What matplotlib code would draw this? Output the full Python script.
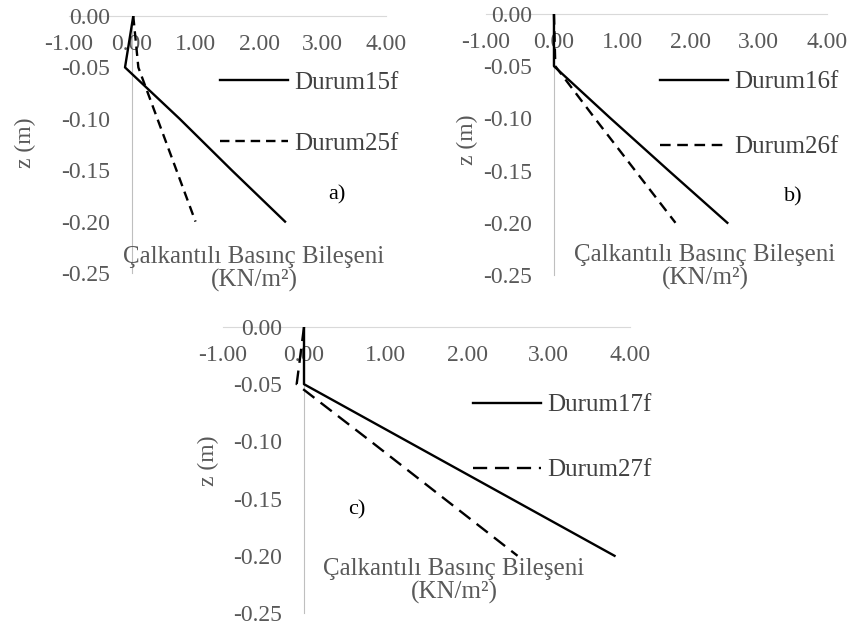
import matplotlib
matplotlib.use("Agg")
from matplotlib import pyplot as plt

#   DEPTH VALUES (m)
z_values = [0.00, -0.05, -0.10, -0.15, -0.20]

#   SLOSHING PRESSURE COMPONENT (KN/m2)
durum15f = [0.02, -0.11, 0.75, 1.57, 2.41]
durum25f = [0.02, 0.10, 0.40, 0.70, 1.00]
durum16f = [0.00, 0.00, 0.83, 1.68, 2.54]
durum26f = [0.00, 0.02, 0.60, 1.19, 1.78]
durum17f = [0.00, 0.00, 1.27, 2.54, 3.81]
durum27f = [0.00, -0.09, 0.82, 1.72, 2.62]

x_ticks = [-1.0, 0.0, 1.0, 2.0, 3.0, 4.0]
y_ticks = [0.00, -0.05, -0.10, -0.15, -0.20, -0.25]

GREY = "#595959"
DARK = "#404040"
plt.rcParams["font.family"] = ["Liberation Serif", "DejaVu Serif"]

figure = plt.figure(figsize=(8.56, 6.28), dpi=100)
W, H = 856.0, 628.0

#   ONE ENTRY PER PANEL: axes box (px), legend anchor (px), letter pos, title pos, z label pos
panels = [
    {"box": (68.5, 16, 386, 273), "solid": durum15f, "dashed": durum25f,
     "names": ("Durum15f", "Durum25f"), "leg": (220, 113), "spacing": 1.53,
     "letter": ("a)", 337, 195), "title": (254, 269), "zlab": (25, 143), "dash": (4.0, 2.5)},
    {"box": (485.7, 14, 827, 275), "solid": durum16f, "dashed": durum26f,
     "names": ("Durum16f", "Durum26f"), "leg": (660, 114.5), "spacing": 1.7,
     "letter": ("b)", 793, 197), "title": (705, 267), "zlab": (467, 140), "dash": (4.5, 2.8)},
    {"box": (222.5, 327, 630, 613), "solid": durum17f, "dashed": durum27f,
     "names": ("Durum17f", "Durum27f"), "leg": (473, 437.5), "spacing": 1.7,
     "letter": ("c)", 357, 510), "title": (454, 581), "zlab": (208, 461), "dash": (6.0, 3.3)},
]

for panel in panels:
    left, top, right, bottom = panel["box"]
    ax = figure.add_axes([left / W, 1 - bottom / H, (right - left) / W, (bottom - top) / H])
    ax.set_xlim(-1.0, 4.0)
    ax.set_ylim(-0.25, 0.0)

    ax.plot(panel["solid"], z_values, color="black", lw=1.7, label=panel["names"][0],
            solid_joinstyle="round")
    ax.plot(panel["dashed"], z_values, color="black", lw=1.7, linestyle=(0, panel["dash"]),
            label=panel["names"][1])

    #   AXES CROSS AT ZERO, EXCEL STYLE
    ax.spines["top"].set_visible(False)
    ax.spines["right"].set_visible(False)
    ax.spines["left"].set_position(("data", 0))
    ax.spines["bottom"].set_position(("data", 0))
    ax.spines["left"].set_color("#bfbfbf")
    ax.spines["bottom"].set_color("#d9d9d9")
    ax.spines["left"].set_zorder(0)
    ax.spines["bottom"].set_zorder(0)

    ax.set_xticks(x_ticks)
    ax.set_xticklabels(["%.2f" % v for v in x_ticks])
    ax.set_yticks(y_ticks)
    ax.set_yticklabels(["%.2f" % v if v != 0 else "0.00" for v in y_ticks])
    ax.tick_params(axis="x", length=0, pad=13, labelsize=17, labelcolor=GREY)
    ax.tick_params(axis="y", length=0, pad=16, labelsize=17, labelcolor=GREY)
    ax.patch.set_alpha(0)

    lx, ly = panel["leg"]
    ax.legend(loc="center left", bbox_to_anchor=(lx / W, 1 - ly / H),
              bbox_transform=figure.transFigure, frameon=False, fontsize=18,
              handlelength=2.7, handletextpad=0.25, labelspacing=panel["spacing"],
              borderpad=0, borderaxespad=0, labelcolor=DARK)

    text, tx, ty = panel["letter"]
    figure.text(tx / W, 1 - ty / H, text, fontsize=16, color="black", ha="center", va="center")
    cx, cy = panel["title"]
    figure.text(cx / W, 1 - cy / H, "Çalkantılı Basınç Bileşeni\n(KN/m²)", fontsize=18,
                color=GREY, ha="center", va="center", multialignment="center", linespacing=1.0)
    zx, zy = panel["zlab"]
    figure.text(zx / W, 1 - zy / H, "z (m)", fontsize=17, color=GREY, rotation=90,
                ha="center", va="center")

figure.savefig("out.png", dpi=100)
